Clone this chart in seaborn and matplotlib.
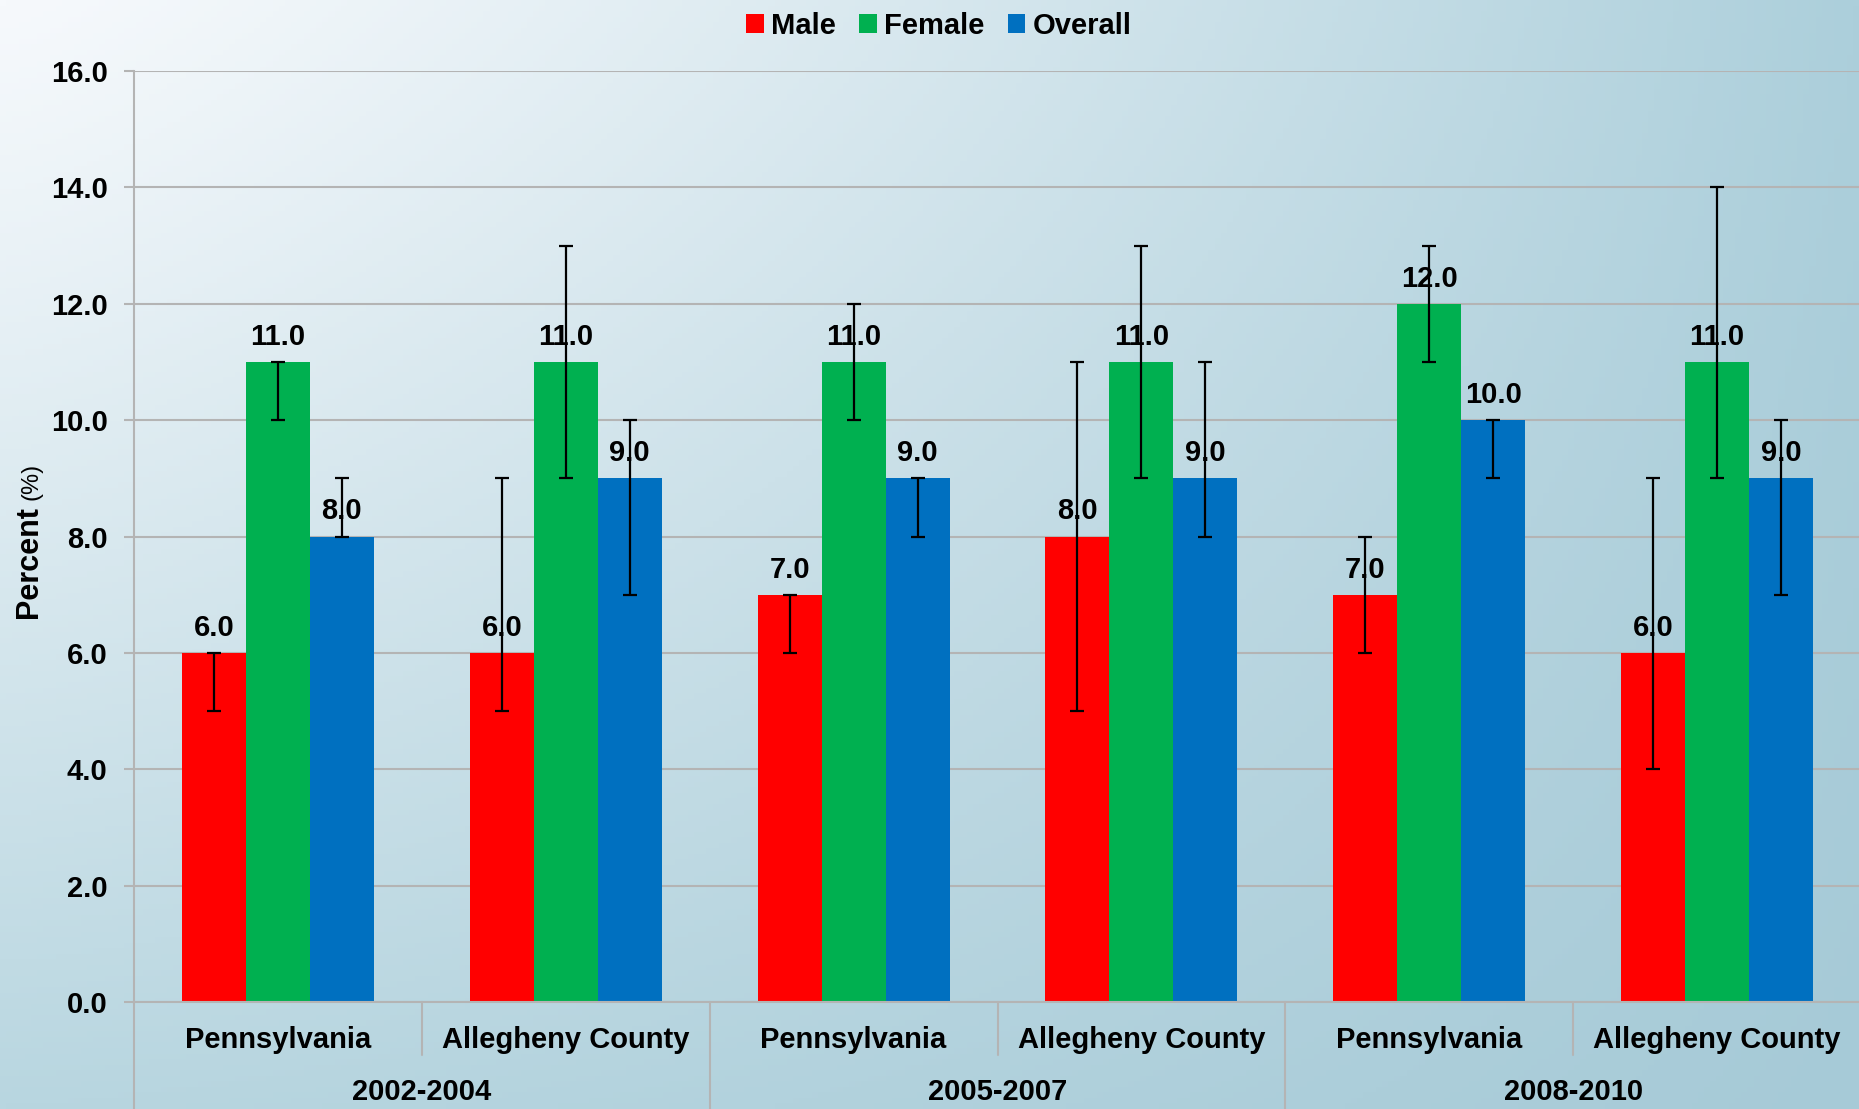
import numpy as np
import pandas as pd
import matplotlib
matplotlib.use("Agg")
import matplotlib.pyplot as plt
import matplotlib.transforms as mtransforms
from matplotlib.patches import Patch
import seaborn as sns

# values
periods = ["2002-2004", "2005-2007", "2008-2010"]
places = ["Pennsylvania", "Allegheny County"]
series = ["Male", "Female", "Overall"]
colors = ["#FF0000", "#00B050", "#0070C0"]

male = [6.0, 6.0, 7.0, 8.0, 7.0, 6.0]
male_lo = [5.0, 5.0, 6.0, 5.0, 6.0, 4.0]
male_hi = [6.0, 9.0, 7.0, 11.0, 8.0, 9.0]
female = [11.0, 11.0, 11.0, 11.0, 12.0, 11.0]
female_lo = [10.0, 9.0, 10.0, 9.0, 11.0, 9.0]
female_hi = [11.0, 13.0, 12.0, 13.0, 13.0, 14.0]
overall = [8.0, 9.0, 9.0, 9.0, 10.0, 9.0]
overall_lo = [8.0, 7.0, 8.0, 8.0, 9.0, 7.0]
overall_hi = [9.0, 10.0, 9.0, 11.0, 10.0, 10.0]

yticks = [0, 2, 4, 6, 8, 10, 12, 14, 16]

# long table for seaborn
keys = [f"{p} {pl}" for p in periods for pl in places]
labels = [pl for p in periods for pl in places]
vals = {"Male": (male, male_lo, male_hi),
        "Female": (female, female_lo, female_hi),
        "Overall": (overall, overall_lo, overall_hi)}
rows = []
for s in series:
    v, lo, hi = vals[s]
    for k, a, b, c in zip(keys, v, lo, hi):
        rows.append({"key": k, "sex": s, "pct": a, "lo": b, "hi": c})
df = pd.DataFrame(rows)

sns.set_theme(style="white")
plt.rcParams["font.family"] = ["Liberation Sans", "DejaVu Sans"]
plt.rcParams["font.weight"] = "bold"
plt.rcParams["text.color"] = "black"
plt.rcParams["xtick.labelcolor"] = "black"
plt.rcParams["ytick.labelcolor"] = "black"
FS = 21
GRID = "#b4b4b4"

fig = plt.figure(figsize=(18.59, 11.09), dpi=100)

# gradient background
bg = fig.add_axes([0, 0, 1, 1], zorder=-10)
bg.set_axis_off()
tl = np.array([246, 249, 252]) / 255
tr = np.array([172, 207, 219]) / 255
bl = np.array([184, 214, 224]) / 255
br = np.array([166, 202, 215]) / 255
xx, yy = np.meshgrid(np.linspace(0, 1, 300), np.linspace(0, 1, 200))
xx = xx ** 1.25
yy = yy ** 1.1
img = (tl * ((1 - xx) * (1 - yy))[..., None] + tr * (xx * (1 - yy))[..., None]
       + bl * ((1 - xx) * yy)[..., None] + br * (xx * yy)[..., None])
bg.imshow(img, aspect="auto", extent=[0, 1, 0, 1], origin="upper")
bg.set_xlim(0, 1)
bg.set_ylim(0, 1)

ax = fig.add_axes([134 / 1859, 1 - 1002 / 1109, 1 - 132 / 1859, (1002 - 71) / 1109])
ax.set_facecolor("none")

sns.barplot(data=df, x="key", y="pct", hue="sex", order=keys, hue_order=series,
            palette=colors, width=0.667, errorbar=None, saturation=1,
            linewidth=0, legend=False, ax=ax, zorder=2)

for cont, s in zip(ax.containers, series):
    v, lo, hi = vals[s]
    xs = [b.get_x() + b.get_width() / 2 for b in cont]
    v = np.array(v)
    yerr = np.vstack([v - np.array(lo), np.array(hi) - v])
    ax.errorbar(xs, v, yerr=yerr, fmt="none", ecolor="black", elinewidth=1.6,
                capsize=5, capthick=1.6, zorder=5)
    ax.bar_label(cont, fmt="%.1f", padding=8, fontsize=FS, fontweight="bold",
                 color="black", zorder=4)

ax.set_ylim(0, 16)
ax.set_xlim(-0.5, 5.5)
ax.set_yticks(yticks)
ax.set_yticklabels([f"{t:.1f}" for t in yticks], fontsize=FS, fontweight="bold")
ax.yaxis.grid(True, color=GRID, lw=1.5, zorder=0)
ax.set_axisbelow(True)
ax.tick_params(axis="y", left=True, length=7, width=1.5, color=GRID, pad=12,
               labelcolor="black")
ax.set_xticks(range(len(keys)))
ax.set_xticklabels(labels, fontsize=FS, fontweight="bold")
ax.tick_params(axis="x", length=0, pad=17, labelcolor="black")
ax.set_xlabel("")
ax.set_ylabel("")
for side in ["top", "right"]:
    ax.spines[side].set_visible(False)
for side in ["left", "bottom"]:
    ax.spines[side].set_color(GRID)
    ax.spines[side].set_linewidth(1.5)

# category separators below the axis
trans = mtransforms.blended_transform_factory(ax.transData, ax.transAxes)
for i, xb in enumerate(np.arange(-0.5, 5.6, 1.0)):
    if i % 2 == 1:
        ax.plot([xb, xb], [0, -0.057], transform=trans, color=GRID, lw=1.5, clip_on=False)
    elif 0 < i < 6:
        ax.plot([xb, xb], [0, -0.2], transform=trans, color=GRID, lw=1.5, clip_on=False)
ax.plot([-0.5, -0.5], [0, -0.2], transform=trans, color=GRID, lw=1.5, clip_on=False)

ytrans = mtransforms.blended_transform_factory(ax.transData, fig.transFigure)
for j, p in enumerate(periods):
    ax.text(2 * j + 0.5, 1 - 1092 / 1109, p, transform=ytrans,
            ha="center", va="center", fontsize=FS, fontweight="bold", color="black")

# legend
handles = [Patch(facecolor=c, edgecolor="none", label=s) for c, s in zip(colors, series)]
fig.legend(handles=handles, loc="center", bbox_to_anchor=(939 / 1859, 1 - 26 / 1109),
           ncol=3, frameon=False, prop={"weight": "bold", "size": FS}, labelcolor="black",
           handlelength=0.6, handleheight=0.6, handletextpad=0.25, columnspacing=0.8)

# y label: bold "Percent" followed by regular "(%)"
t1 = fig.text(37 / 1859, 1 - 618 / 1109, "Percent", rotation=90, rotation_mode="anchor",
              ha="left", va="baseline", fontsize=22, fontweight="bold", color="black")
fig.canvas.draw()
ext = t1.get_window_extent(fig.canvas.get_renderer())
fig.text(37 / 1859, (ext.y1 + 6) / fig.bbox.height, "(%)", rotation=90,
         rotation_mode="anchor", ha="left", va="baseline", fontsize=17,
         fontweight="normal", color="black")

fig.savefig("out.png", dpi=100)
